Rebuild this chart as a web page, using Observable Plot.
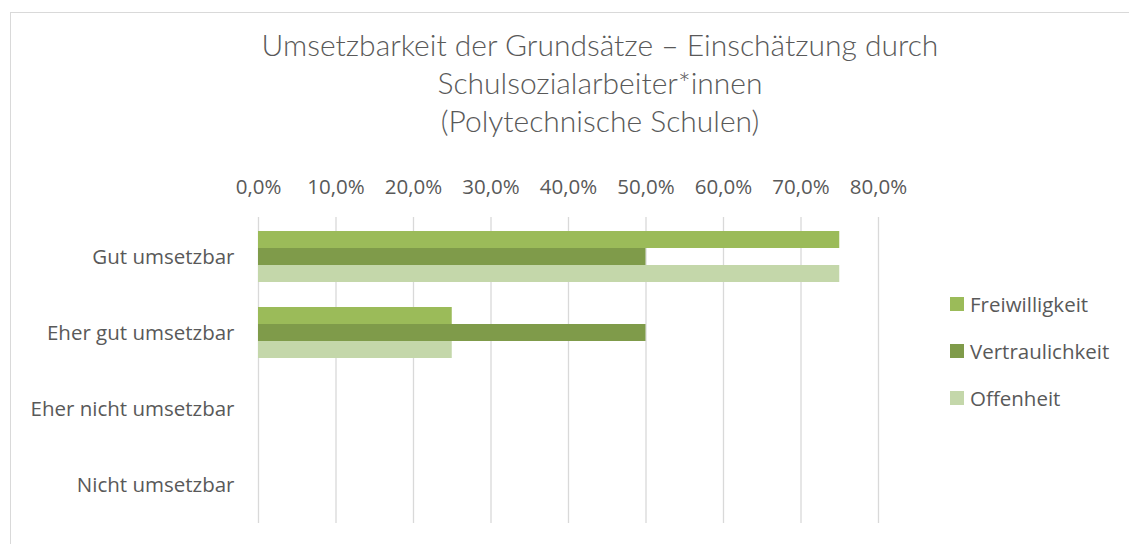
<!DOCTYPE html>
<html>
<head>
<meta charset="utf-8">
<script src="https://cdn.jsdelivr.net/npm/d3@7"></script>
<script src="https://cdn.jsdelivr.net/npm/@observablehq/plot@0.6"></script>
<style>
  html, body { margin: 0; padding: 0; background: #fff; }
  #wrap { position: relative; width: 1129px; height: 544px; overflow: hidden; font-family: "Open Sans", Lato, sans-serif; color: #595959; }
  #frame { position: absolute; left: 10px; top: 12px; width: 1200px; height: 600px; border: 1px solid #d9d9d9; box-sizing: border-box; }
  #title { position: absolute; left: 0; top: 25px; width: 1200px; text-align: center; font-family: Lato, sans-serif; font-weight: 300; font-size: 30px; line-height: 38px; }
  #grid, #chart { position: absolute; left: 0; top: 150px; }
  #legend { position: absolute; left: 950px; top: 291px; font-size: 20.5px; }
  .item { display: flex; align-items: center; height: 26px; margin-bottom: 21px; }
  .sw { width: 14px; height: 14px; margin-right: 6px; }
</style>
</head>
<body>
<div id="wrap">
  <div id="frame"></div>
  <div id="title">Umsetzbarkeit der Grundsätze – Einschätzung durch<br>Schulsozialarbeiter*innen<br>(Polytechnische Schulen)</div>
  <div id="grid"></div>
  <div id="chart"></div>
  <div id="legend"></div>
</div>
<script>
const categories = ["Gut umsetzbar", "Eher gut umsetzbar", "Eher nicht umsetzbar", "Nicht umsetzbar"];
const series = ["Freiwilligkeit", "Vertraulichkeit", "Offenheit"];
const freiwilligkeit = [75, 25, 0, 0];
const vertraulichkeit = [50, 50, 0, 0];
const offenheit = [75, 25, 0, 0];
const xTicks = [0, 10, 20, 30, 40, 50, 60, 70, 80];
const colors = ["#9BBB59", "#7F9B4A", "#C4D7AA"];

const valuesBySeries = [freiwilligkeit, vertraulichkeit, offenheit];
const data = categories.flatMap((c, i) =>
  series.map((s, j) => ({ category: c, series: s, value: valuesBySeries[j][i] }))
);

const fmt = d => d.toFixed(1).replace(".", ",") + "%";

const common = {
  width: 1129,
  height: 394,
  marginLeft: 258,
  marginRight: 251,
  marginTop: 67,
  marginBottom: 21
};
const font = "'Open Sans', Lato, sans-serif";

// Background gridlines (continuous across category groups)
const grid = Plot.plot({
  ...common,
  style: { fontFamily: font, background: "transparent" },
  x: { domain: [0, 80], axis: null },
  marks: [
    Plot.ruleX(xTicks, { x: d => d, stroke: "#d9d9d9", strokeWidth: 1.3 })
  ]
});
document.getElementById("grid").appendChild(grid);

// Grouped bars
const plot = Plot.plot({
  ...common,
  style: { fontFamily: font, fontSize: "20.5px", color: "#595959", background: "transparent", overflow: "visible" },
  x: { domain: [0, 80], axis: "top", ticks: xTicks, tickFormat: fmt, tickSize: 0, tickPadding: 38, label: null },
  y: { domain: series, axis: null, padding: 0 },
  fy: { domain: categories, paddingInner: 1/3, paddingOuter: 1/6, axis: "left", tickSize: 0, tickPadding: 24, label: null },
  color: { domain: series, range: colors },
  marks: [
    Plot.barX(data, { x: "value", y: "series", fy: "category", fill: "series" })
  ]
});
document.getElementById("chart").appendChild(plot);

const legend = document.getElementById("legend");
series.forEach((s, i) => {
  const item = document.createElement("div");
  item.className = "item";
  item.innerHTML = `<span class="sw" style="background:${colors[i]}"></span><span>${s}</span>`;
  legend.appendChild(item);
});
</script>
</body>
</html>
